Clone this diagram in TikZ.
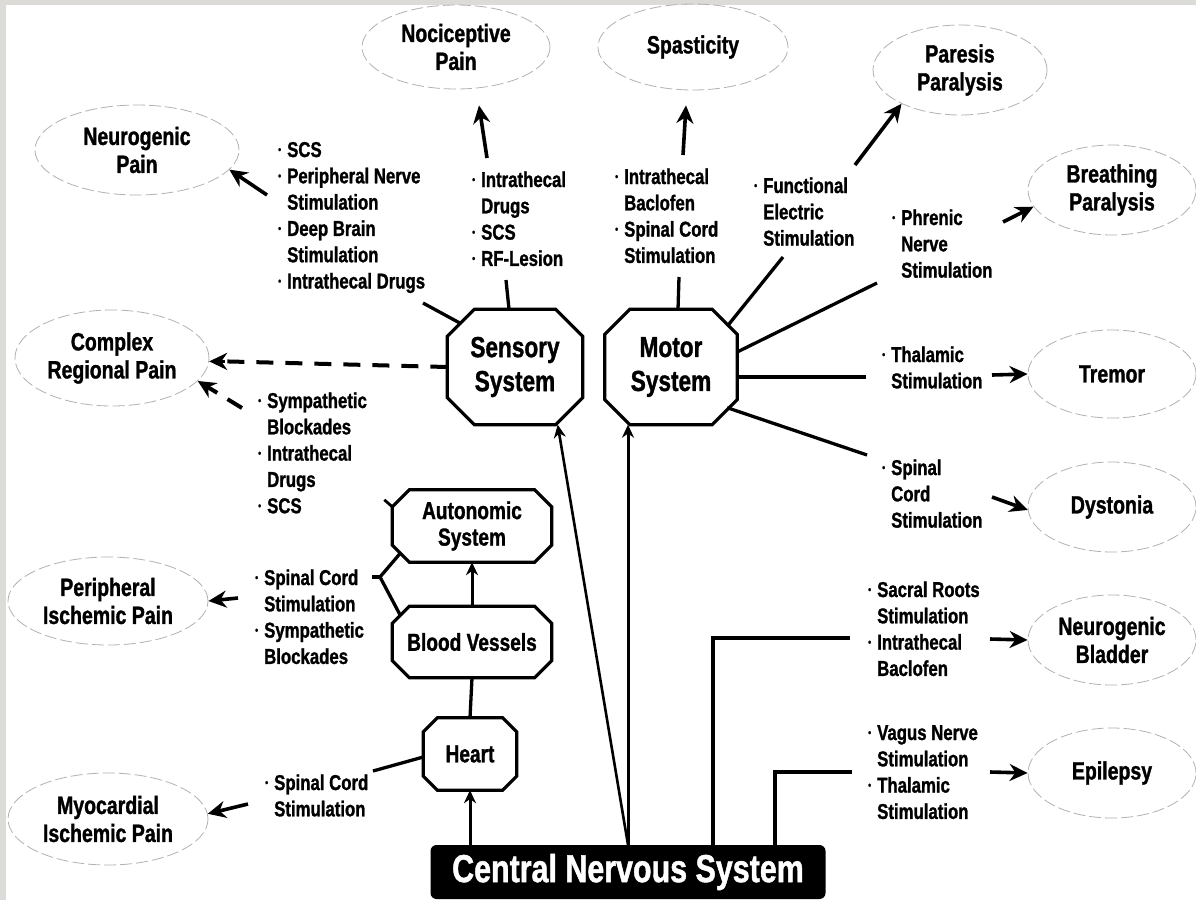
\documentclass[tikz,border=0pt]{standalone}
\usepackage{fontspec}
\setmainfont{Liberation Sans}[FakeStretch=0.78, BoldFeatures={FakeBold=1.2}]
\usepackage{graphicx}
\usetikzlibrary{arrows.meta,calc,shapes.geometric}
\definecolor{framegray}{RGB}{221,219,215}
\newcommand\bu{\makebox[9pt][l]{\raisebox{3.8pt}{\scalebox{0.5}{•}}}}
\newcommand\ind{\hspace*{9pt}}
\newcommand\lst[1]{\begin{tabular}[t]{@{}l@{}}#1\end{tabular}}
\newcommand\fsm{\bfseries\fontsize{21.5pt}{26.3pt}\selectfont}
\newcommand\fel{\bfseries\fontsize{25pt}{28pt}\selectfont}
\newcommand\foc{\bfseries\fontsize{29pt}{34pt}\selectfont}
\newcommand\fau{\bfseries\fontsize{24.5pt}{26.5pt}\selectfont}
\newcommand\fcn{\bfseries\fontsize{39pt}{44pt}\selectfont}
\begin{document}
\begin{tikzpicture}[x=1pt,y=-1pt,
  ell/.style={ellipse, draw=gray!60, line width=0.8pt, dash pattern=on 12pt off 4pt,
    inner sep=0pt, align=center, font=\fel},
  lst/.style={inner sep=0pt, anchor=base west, font=\fsm},
  oct/.style={rectangle, inner sep=0pt, align=center},
  octline/.style={line width=3.2pt, line join=miter},
  conn/.style={line width=3.3pt},
  arr/.style={line width=3.6pt, -{Stealth[length=18pt,width=17pt]}},
  arrs/.style={line width=3pt, -{Stealth[length=13pt,width=12pt]}},
  dsh/.style={line width=4pt, dash pattern=on 17pt off 12pt},
  dsharr/.style={dsh, -{Stealth[length=18pt,width=17pt]}}
]
\useasboundingbox (0,0) rectangle (1196,900);
\fill[framegray] (0,0) rectangle (1196,900);
\fill[white] (6,5) rectangle (1196,900);

% outcome ellipses
\node[ell, minimum width=204pt, minimum height=90pt] (neur) at (137,150) {Neurogenic\\Pain};
\node[ell, minimum width=188pt, minimum height=84pt] (noci) at (456,47) {Nociceptive\\Pain};
\node[ell, minimum width=190pt, minimum height=86pt] (spas) at (693,47) {Spasticity};
\node[ell, minimum width=174pt, minimum height=90pt] (pare) at (960,70) {Paresis\\Paralysis};
\node[ell, minimum width=168pt, minimum height=90pt] (brea) at (1112,190) {Breathing\\Paralysis};
\node[ell, minimum width=194pt, minimum height=96pt] (crp) at (112,358) {Complex\\Regional Pain};
\node[ell, minimum width=200pt, minimum height=88pt] (pip) at (108,601) {Peripheral\\Ischemic Pain};
\node[ell, minimum width=200pt, minimum height=92pt] (mip) at (108,819) {Myocardial\\Ischemic Pain};
\node[ell, minimum width=168pt, minimum height=88pt] (trem) at (1112,374) {Tremor};
\node[ell, minimum width=168pt, minimum height=90pt] (dyst) at (1112,507) {Dystonia};
\node[ell, minimum width=168pt, minimum height=90pt] (blad) at (1112,640) {Neurogenic\\Bladder};
\node[ell, minimum width=168pt, minimum height=90pt] (epil) at (1112,773) {Epilepsy};

% treatment lists
\node[lst] (tneur) at (278,157) {\lst{\bu SCS\\\bu Peripheral Nerve\\\ind Stimulation\\\bu Deep Brain\\\ind Stimulation\\\bu Intrathecal Drugs}};
\node[lst] (tnoci) at (472,187) {\lst{\bu Intrathecal\\\ind Drugs\\\bu SCS\\\bu RF-Lesion}};
\node[lst] (tspas) at (615,184) {\lst{\bu Intrathecal\\\ind Baclofen\\\bu Spinal Cord\\\ind Stimulation}};
\node[lst] (tfes) at (754,193) {\lst{\bu Functional\\\ind Electric\\\ind Stimulation}};
\node[lst] (tphr) at (892,225) {\lst{\bu Phrenic\\\ind Nerve\\\ind Stimulation}};
\node[lst] (tthal) at (882,362) {\lst{\bu Thalamic\\\ind Stimulation}};
\node[lst] (tscs) at (882,475) {\lst{\bu Spinal\\\ind Cord\\\ind Stimulation}};
\node[lst] (tbla) at (868,597) {\lst{\bu Sacral Roots\\\ind Stimulation\\\bu Intrathecal\\\ind Baclofen}};
\node[lst] (tepi) at (868,740) {\lst{\bu Vagus Nerve\\\ind Stimulation\\\bu Thalamic\\\ind Stimulation}};
\node[lst] (tcrp) at (258,408) {\lst{\bu Sympathetic\\\ind Blockades\\\bu Intrathecal\\\ind Drugs\\\bu SCS}};
\node[lst] (tpip) at (255,585) {\lst{\bu Spinal Cord\\\ind Stimulation\\\bu Sympathetic\\\ind Blockades}};
\node[lst] (tmip) at (265,790) {\lst{\bu Spinal Cord\\\ind Stimulation}};

% systems
\node[oct, font=\foc, minimum width=135pt, minimum height=115pt] (sens) at (515,367) {Sensory\\System};
\node[oct, font=\foc, minimum width=132pt, minimum height=115pt] (mot) at (671,367) {Motor\\System};
\node[oct, font=\fau, minimum width=159pt, minimum height=72pt] (auto) at (472,526) {Autonomic\\System};
\node[oct, font=\fau, minimum width=159pt, minimum height=71pt] (bv) at (472,642) {Blood Vessels};
\node[oct, font=\fau, minimum width=93pt, minimum height=72pt] (heart) at (470,754) {Heart};
\node[fill=black, text=white, rounded corners=6pt, inner sep=0pt, minimum width=395pt,
  minimum height=54pt, font=\fcn] (cns) at (628,872) {Central Nervous System};

\foreach \n/\c in {sens/27,mot/25,auto/17,bv/17,heart/14}{
  \draw[octline] ($(\n.north west)+(\c,0)$) -- ($(\n.north east)+(-\c,0)$)
    -- ($(\n.north east)+(0,\c)$) -- ($(\n.south east)+(0,-\c)$)
    -- ($(\n.south east)+(-\c,0)$) -- ($(\n.south west)+(\c,0)$)
    -- ($(\n.south west)+(0,-\c)$) -- ($(\n.north west)+(0,\c)$) -- cycle;
}

% connectors: sensory side
\draw[conn] ($(sens.north west)+(13,14)$) -- ($(tneur.base west)+(145,146)$);
\draw[arr] ($(tneur.base west)+(-11,38)$) -- (neur.-12);
\draw[conn] ($(sens.north)+(-6,0)$) -- ($(tnoci.base west)+(34,93)$);
\draw[arr] ($(tnoci.base west)+(15,-29)$) -- ($(noci.south)+(23,16)$);
\draw[dsh] (sens.west) -- ($(crp.-2)+(16,0)$);
\draw[-{Stealth[length=18pt,width=17pt]}, line width=3.6pt] ($(crp.-2)+(16,0)$) -- (crp.-2);
\draw[dsharr] ($(tcrp.base west)+(-16,0)$) -- (crp.-15);

% motor side
\draw[conn] ($(mot.north)+(7,0)$) -- ($(tspas.base west)+(64,93)$);
\draw[arr] ($(tspas.base west)+(68,-29)$) -- ($(spas.south)+(-7,15)$);
\draw[conn] ($(mot.north east)+(-10,17)$) -- ($(tfes.base west)+(29,64)$);
\draw[arr] ($(tfes.base west)+(101,-28)$) -- (pare.-150);
\draw[conn] ($(mot.east)+(0,-15)$) -- ($(tphr.base west)+(-15,58)$);
\draw[arr] ($(tphr.base west)+(111,-3)$) -- (brea.-168);
\draw[conn] ($(mot.east)+(0,10)$) -- ($(tthal.base west)+(-16,15)$);
\draw[arr] ($(tthal.base west)+(110,13)$) -- (trem.west);
\draw[conn] ($(mot.south east)+(-10,-17)$) -- ($(tscs.base west)+(-15,-20)$);
\draw[arr] ($(tscs.base west)+(110,22)$) -- (dyst.-178);

% central nervous system branches
\draw[line width=2.6pt, -{Stealth[length=13pt,width=12pt]}] (cns.north) -- ($(sens.south east)+(-25,0)$);
\draw[arrs] (cns.north) -- (cns.north |- mot.south);
\draw[conn] ($(cns.north)+(85,0)$) |- ($(tbla.base west)+(-18,41)$);
\draw[arr] ($(tbla.base west)+(122,42)$) -- (blad.west);
\draw[conn] ($(cns.north)+(147,0)$) |- ($(tepi.base west)+(-16,32)$);
\draw[arr] ($(tepi.base west)+(122,32)$) -- (epil.west);
\draw[arrs] (heart.south |- cns.north) -- (heart.south);
\draw[conn] (heart.north) -- (bv.south);
\draw[arrs] (bv.north) -- (auto.south);

% left branches
\draw[conn] ($(heart.west)+(0,3)$) -- ($(tmip.base west)+(108,-19)$);
\draw[arr] ($(tmip.base west)+(-17,14)$) -- (mip.3);
\coordinate (brk) at (380,577);
\draw[conn, line join=miter] ($(auto.south west)+(8,-9)$) -- (brk) -- ($(bv.north west)+(8,9)$);
\draw[conn] ($(tpip.base west)+(117,-8)$) -- (brk);
\draw[arr] ($(tpip.base west)+(-17,13)$) -- (pip.east);
\draw[line width=2.8pt] ($(auto.north west)+(0,17)$) -- ($(auto.north west)+(-8,10)$);
\end{tikzpicture}
\end{document}
